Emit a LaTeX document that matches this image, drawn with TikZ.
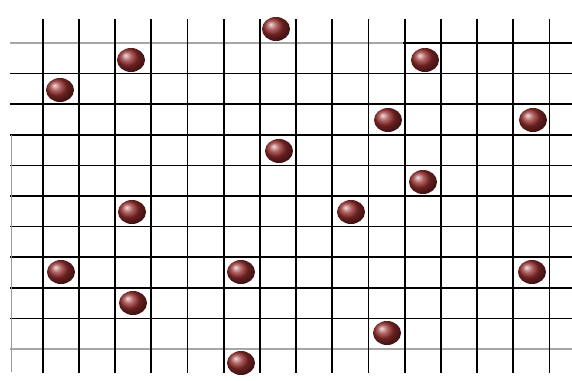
\documentclass[tikz,border=0pt]{standalone}
\usetikzlibrary{shapes.geometric}
\definecolor{beadred}{RGB}{150,45,45}
\tikzset{
  gridline/.style={draw=black, line width=1.7pt},
  paleline/.style={draw=black!35, line width=1.7pt},
  edgeline/.style={draw=black!40, line width=.8pt},
  bead/.style={ellipse, minimum width=28pt, minimum height=24pt,
    inner sep=0pt, shading=ball, ball color=beadred},
}
\begin{document}
\begin{tikzpicture}[x=1pt, y=-1pt]
    \useasboundingbox (0,0) rectangle (572,380);
    \foreach \k in {1,...,9}
      \draw[gridline] (10,43+30.6*\k) -- (572,43+30.6*\k);
    \draw[paleline] (10,43) -- (403,43);
    \draw[gridline] (403,43) -- (572,43);
    \draw[paleline] (10,349) -- (572,349);
    \draw[edgeline] (11,135) -- (11,372);
    \foreach \k in {0,...,14}
      \draw[gridline] (42.7+36.2*\k,19) -- (42.7+36.2*\k,373);

    \node[bead] (b1)  at (276,29)  {};
    \node[bead] (b2)  at (131,60)  {};
    \node[bead] (b3)  at (425,60)  {};
    \node[bead] (b4)  at (60,90)   {};
    \node[bead] (b5)  at (388,120) {};
    \node[bead] (b6)  at (533,120) {};
    \node[bead] (b7)  at (279,151) {};
    \node[bead] (b8)  at (423,182) {};
    \node[bead] (b9)  at (132,212) {};
    \node[bead] (b10) at (351,212) {};
    \node[bead] (b11) at (61,272)  {};
    \node[bead] (b12) at (241,272) {};
    \node[bead] (b13) at (532,272) {};
    \node[bead] (b14) at (133,303) {};
    \node[bead] (b15) at (387,333) {};
    \node[bead] (b16) at (241,363) {};
\end{tikzpicture}
\end{document}
